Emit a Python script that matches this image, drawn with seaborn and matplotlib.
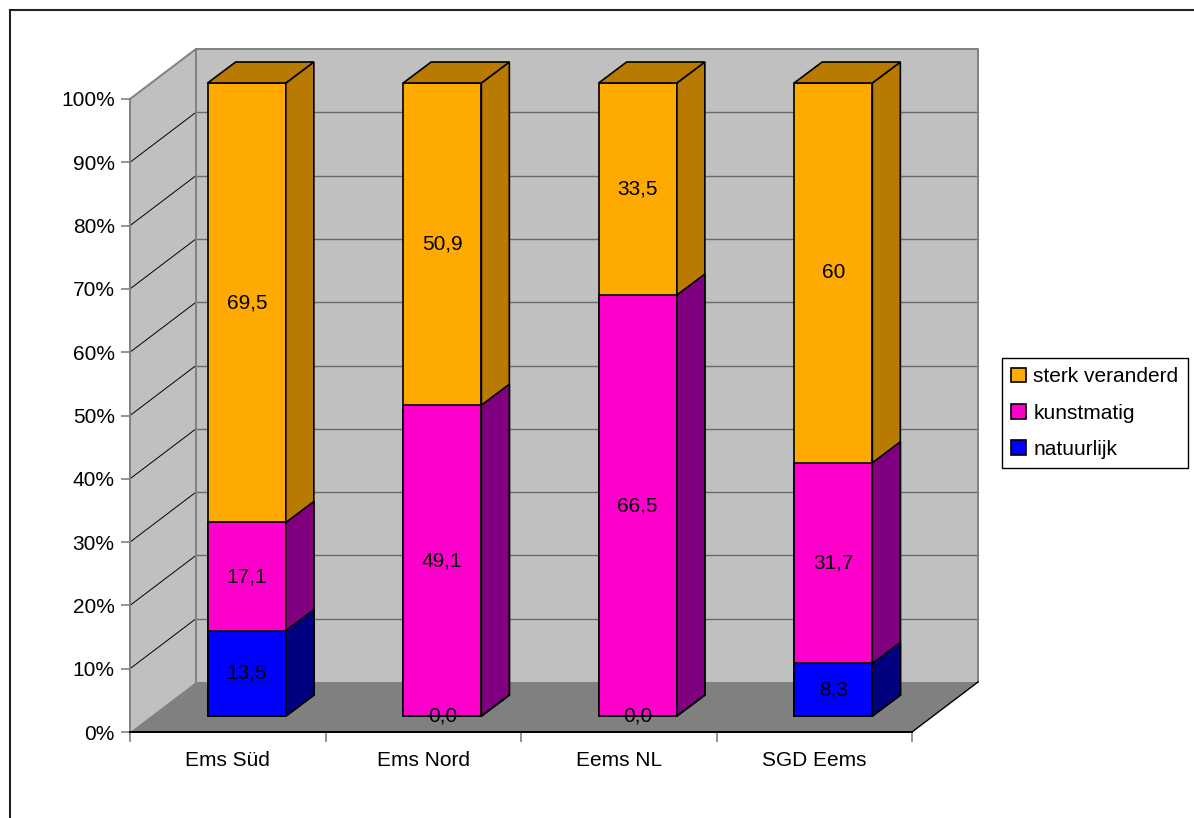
import numpy as np
import pandas as pd
import seaborn as sns
import matplotlib.pyplot as plt
from matplotlib.patches import Polygon
from matplotlib.lines import Line2D

# data (percent shares per water body)
regions = ["Ems Süd", "Ems Nord", "Eems NL", "SGD Eems"]
natuurlijk = [13.5, 0.0, 0.0, 8.3]
kunstmatig = [17.1, 49.1, 66.5, 31.7]
sterk_veranderd = [69.5, 50.9, 33.5, 60.0]
y_ticks = list(range(0, 101, 10))

stack_order = ["natuurlijk", "kunstmatig", "sterk veranderd"]
front_colors = {"sterk veranderd": "#FFAA00", "kunstmatig": "#FF00CC", "natuurlijk": "#0000FF"}
side_colors = {"sterk veranderd": "#B87A00", "kunstmatig": "#800080", "natuurlijk": "#000080"}

W, H, DPI = 1194, 818, 100
FS = 15

plt.rcParams["font.family"] = ["Liberation Sans", "DejaVu Sans"]

df = pd.DataFrame({"regio": regions, "natuurlijk": natuurlijk,
                   "kunstmatig": kunstmatig, "sterk veranderd": sterk_veranderd})
pct = df[stack_order].div(df[stack_order].sum(axis=1), axis=0) * 100
cum = pct.cumsum(axis=1)
cum.insert(0, "regio", df["regio"])


def fmt(v):
    s = "%g" % v if v and v == int(v) else "%.1f" % v
    return s.replace(".", ",")


def box(left, top, right, bottom):
    return [left / W, 1 - bottom / H, (right - left) / W, (bottom - top) / H]


fig = plt.figure(figsize=(W / DPI, H / DPI), dpi=DPI)
ax = fig.add_axes(box(149, 83, 931, 716))    # plane of the bar fronts
axf = fig.add_axes(box(130, 99, 912, 732))   # front edge of the 3D box

# pixel -> data unit conversions for the bar plane
ppx = 782 / 4.0
ppy = 633 / 100.0
fx, fy = -19 / ppx, -16 / ppy     # front plane offset
bx, by = 47 / ppx, 34 / ppy       # back wall offset
ddx, ddy = 28 / ppx, 21 / ppy     # bar depth

# stacked bars drawn as overlaid cumulative bars, tallest first
for name in stack_order[::-1]:
    sns.barplot(data=cum, x="regio", y=name, color=front_colors[name], saturation=1,
                edgecolor="black", linewidth=1.2, width=0.4, errorbar=None,
                label=name, ax=ax, zorder=3)

ax.set_xlim(-0.5, 3.5)
ax.set_ylim(0, 100)
ax.set_axis_off()
handles, labels = ax.get_legend_handles_labels()
if ax.get_legend() is not None:
    ax.get_legend().remove()

# 3D faces of the bars
groups = [ax.patches[i * 4:(i + 1) * 4] for i in range(3)]
for name, bars in zip(stack_order[::-1], groups):
    for p in bars:
        x0, y0 = p.get_x(), p.get_y()
        x1, y1 = x0 + p.get_width(), y0 + p.get_height()
        ax.add_patch(Polygon([(x1, y0), (x1 + ddx, y0 + ddy), (x1 + ddx, y1 + ddy), (x1, y1)],
                             closed=True, facecolor=side_colors[name], edgecolor="black",
                             linewidth=1.2, zorder=3, clip_on=False))
        if name == "sterk veranderd":
            ax.add_patch(Polygon([(x0, y1), (x0 + ddx, y1 + ddy), (x1 + ddx, y1 + ddy), (x1, y1)],
                                 closed=True, facecolor=side_colors[name], edgecolor="black",
                                 linewidth=1.2, zorder=3, clip_on=False))
for p in ax.patches:
    p.set_clip_on(False)

# walls and floor
xl, xr = -0.5, 3.5
wall_kw = dict(closed=True, clip_on=False, edgecolor="none")
ax.add_patch(Polygon([(xl + bx, by), (xr + bx, by), (xr + bx, 100 + by), (xl + bx, 100 + by)],
                     facecolor="#C0C0C0", zorder=0.2, **wall_kw))
ax.add_patch(Polygon([(xl + fx, fy), (xl + bx, by), (xl + bx, 100 + by), (xl + fx, 100 + fy)],
                     facecolor="#C0C0C0", zorder=0.2, **wall_kw))
for v in y_ticks[1:-1]:
    ax.plot([xl + bx, xr + bx], [v + by, v + by], color="#6a6a6a", lw=1.0, zorder=0.4, clip_on=False)
    ax.plot([xl + fx, xl + bx], [v + fy, v + by], color="black", lw=0.7, zorder=0.4, clip_on=False)
edge_kw = dict(color="#808080", lw=1.4, zorder=0.5, clip_on=False)
ax.plot([xl + bx, xr + bx, xr + bx], [100 + by, 100 + by, by], **edge_kw)
ax.plot([xl + bx, xl + bx], [by, 100 + by], **edge_kw)
ax.plot([xl + fx, xl + bx], [100 + fy, 100 + by], **edge_kw)
ax.add_patch(Polygon([(xl + fx, fy), (xr + fx, fy), (xr + bx, by), (xl + bx, by)],
                     facecolor="#808080", zorder=0.6, **wall_kw))
ax.plot([xr + fx, xr + bx], [fy, by], color="black", lw=1.0, zorder=0.7, clip_on=False)

# value labels in the middle of every segment
for i in range(len(regions)):
    below = 0.0
    for name in stack_order:
        seg = pct[name].iloc[i]
        ax.text(i, below + seg / 2, fmt(df[name].iloc[i]), ha="center", va="center",
                fontsize=FS, color="black", zorder=6)
        below += seg

# front axis with ticks and labels
axf.set_xlim(-0.5, 3.5)
axf.set_ylim(0, 100)
axf.patch.set_visible(False)
axf.spines["top"].set_visible(False)
axf.spines["right"].set_visible(False)
axf.spines["left"].set_color("#808080")
axf.spines["left"].set_linewidth(1.4)
axf.spines["bottom"].set_color("black")
axf.spines["bottom"].set_linewidth(1.4)
axf.set_yticks(y_ticks)
axf.set_yticklabels([f"{v}%" for v in y_ticks])
axf.set_xticks(np.arange(-0.5, 4, 1))
axf.set_xticklabels([])
axf.set_xticks(range(len(regions)), minor=True)
axf.set_xticklabels(regions, minor=True)
axf.tick_params(axis="y", which="major", length=6.5, width=1.2, color="#808080",
                pad=4.5, labelsize=FS, labelcolor="black")
axf.tick_params(axis="x", which="major", length=7.2, width=1.2, color="#808080")
axf.tick_params(axis="x", which="minor", length=0, pad=14, labelsize=FS, labelcolor="black")

# legend
leg = fig.legend(handles, labels, loc="upper left", bbox_to_anchor=(1002 / W, 1 - 358 / H),
                 frameon=True, fancybox=False, edgecolor="black", framealpha=1,
                 fontsize=FS, handlelength=0.7, handleheight=0.7, handletextpad=0.35,
                 labelspacing=0.83, borderpad=0.45, borderaxespad=0)
leg.get_frame().set_linewidth(1.0)

# chart area border (left and top edges visible)
fig.add_artist(Line2D([9.5 / W, 9.5 / W], [0, 1 - 9.5 / H], color="#222222", lw=1.5,
                      transform=fig.transFigure))
fig.add_artist(Line2D([9.5 / W, 1], [1 - 9.5 / H, 1 - 9.5 / H], color="#222222", lw=1.5,
                      transform=fig.transFigure))

fig.savefig("out.png", dpi=DPI)
